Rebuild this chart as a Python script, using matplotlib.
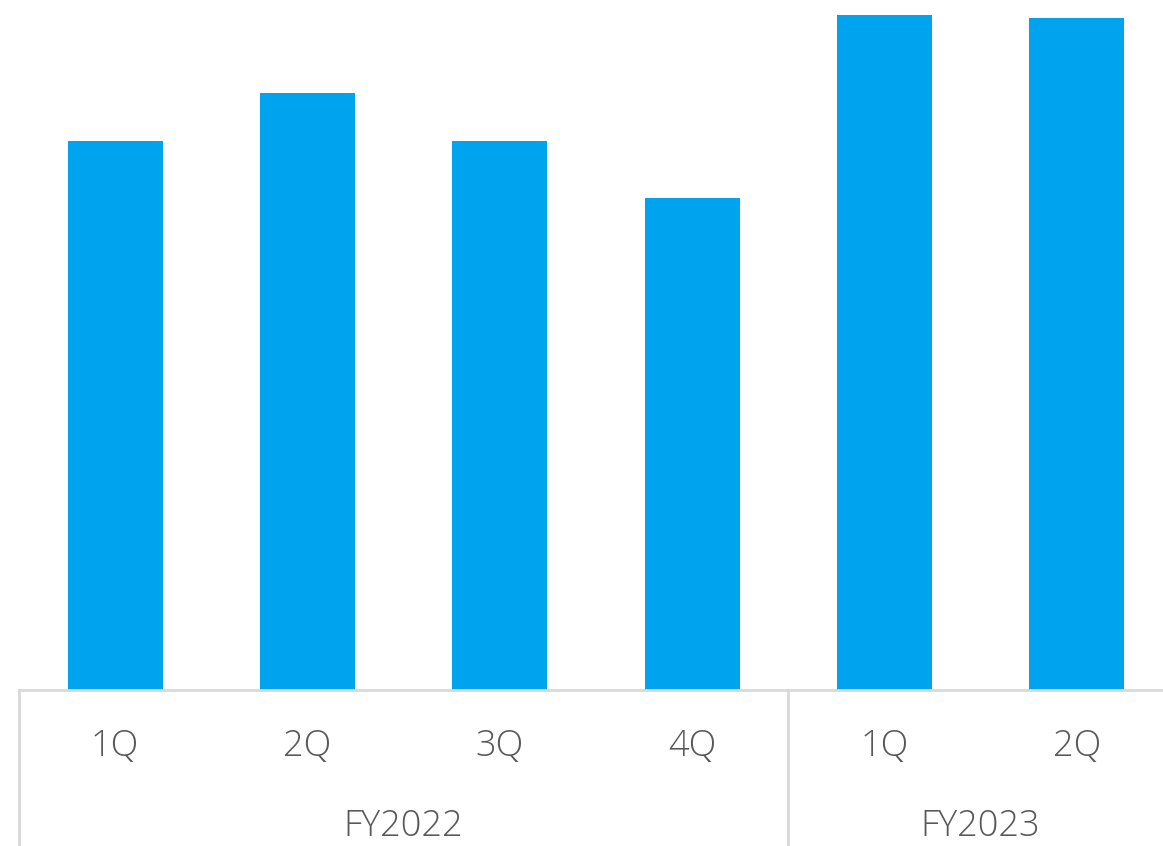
import matplotlib
matplotlib.use("Agg")
import matplotlib.pyplot as plt
from matplotlib import transforms

# Données (unités arbitraires, pas d'axe Y visible)
trimestres = ["1Q", "2Q", "3Q", "4Q", "1Q", "2Q"]
valeurs = [549, 597, 549, 492, 675, 672]
exercices = ["FY2022", "FY2023"]
nb_par_exercice = [4, 2]

COULEUR_BARRE = "#00A3EE"
COULEUR_TRAIT = "#D9D9D9"
COULEUR_TEXTE = "#595959"

W, H = 1163, 846
fig = plt.figure(figsize=(W / 100, H / 100), dpi=100)

# Axe placé en pixels : de x=19 à x=1173 (débordant à droite), base à y=690
x0, x1, y_base = 19, 1173, 690
ax = fig.add_axes([x0 / W, (H - y_base) / H, (x1 - x0) / W, y_base / H])

positions = list(range(len(valeurs)))
ax.bar(positions, valeurs, width=0.495, color=COULEUR_BARRE, zorder=2)
ax.set_xlim(-0.5, len(valeurs) - 0.5)
ax.set_ylim(0, y_base)
ax.axis("off")

trans = transforms.blended_transform_factory(ax.transData, ax.transAxes)
y_bas = -(H - y_base) / y_base
y_trim = -(746 - y_base) / y_base
y_ex = -(826 - y_base) / y_base

# Ligne de base
ax.plot([-0.5, len(valeurs) - 0.5], [0, 0], transform=trans, color=COULEUR_TRAIT,
        lw=2, clip_on=False, zorder=3)

police = dict(family=["Open Sans", "DejaVu Sans"], weight="light", color=COULEUR_TEXTE)

for i, t in enumerate(trimestres):
    ax.text(i, y_trim, t, transform=trans, ha="center", va="center", fontsize=26, **police)

debut = 0
for ex, n in zip(exercices, nb_par_exercice):
    gauche = debut - 0.5
    ax.plot([gauche, gauche], [0, y_bas], transform=trans, color=COULEUR_TRAIT,
            lw=2, clip_on=False)
    centre = debut + (n - 1) / 2
    ax.text(centre, y_ex, ex, transform=trans, ha="center", va="center", fontsize=26, **police)
    debut += n
ax.plot([debut - 0.5, debut - 0.5], [0, y_bas], transform=trans, color=COULEUR_TRAIT,
        lw=2, clip_on=False)

fig.savefig("out.png", dpi=100)
